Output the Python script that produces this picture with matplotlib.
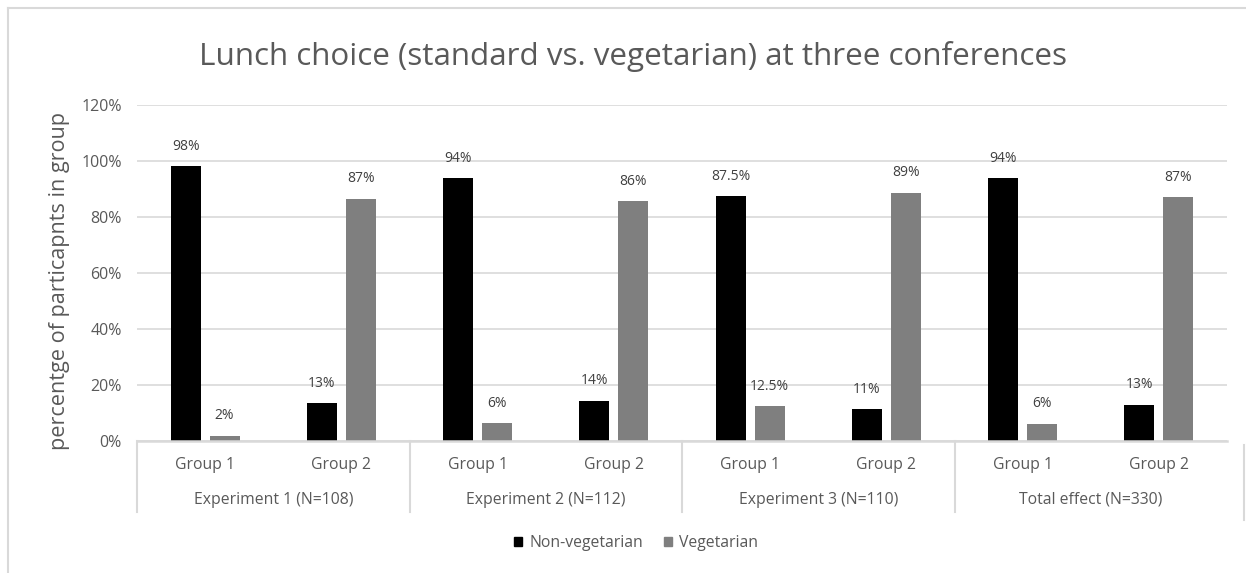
import matplotlib
matplotlib.use("Agg")
import matplotlib.pyplot as plt
from matplotlib.patches import Patch
from matplotlib.lines import Line2D
import numpy as np

plt.rcParams['font.family'] = ['Open Sans', 'DejaVu Sans']

# data
groups = ["Group 1", "Group 2"] * 4
experiments = ["Experiment 1 (N=108)", "Experiment 2 (N=112)",
               "Experiment 3 (N=110)", "Total effect (N=330)"]
non_veg = [98.1, 13.5, 93.8, 14.3, 87.5, 11.4, 93.9, 12.9]
veg = [1.9, 86.5, 6.3, 85.7, 12.5, 88.6, 6.1, 87.1]
non_veg_labels = ["98%", "13%", "94%", "14%", "87.5%", "11%", "94%", "13%"]
veg_labels = ["2%", "87%", "6%", "86%", "12.5%", "89%", "6%", "87%"]

W, H = 1246, 573
fig = plt.figure(figsize=(W / 100, H / 100), dpi=100)
ax = fig.add_axes([137 / W, (H - 441) / H, 1090 / W, 336 / H])

txt = "#595959"
grid = "#d9d9d9"
x = np.arange(len(groups))
bw = 0.22
off = 0.143
ax.bar(x - off, non_veg, bw, color="black", zorder=3)
ax.bar(x + off, veg, bw, color="#7f7f7f", zorder=3)

for i in range(len(x)):
    ax.annotate(non_veg_labels[i], (x[i] - off, non_veg[i]), xytext=(0, 20),
                textcoords="offset pixels", ha="center", va="center",
                fontsize=10, color="#404040")
    ax.annotate(veg_labels[i], (x[i] + off, veg[i]), xytext=(0, 20),
                textcoords="offset pixels", ha="center", va="center",
                fontsize=10, color="#404040")

ax.set_xlim(-0.5, 7.5)
ax.set_ylim(0, 120)
ax.set_yticks(range(0, 121, 20))
ax.set_yticklabels([f"{v}%" for v in range(0, 121, 20)])
ax.tick_params(axis="y", length=0, pad=11, labelsize=11.5, labelcolor=txt)
ax.set_xticks([])
ax.yaxis.grid(True, color=grid, lw=1.2, zorder=0)
for s in ["top", "right", "left"]:
    ax.spines[s].set_visible(False)
ax.spines["bottom"].set_color(grid)
ax.spines["bottom"].set_linewidth(1.8)
ax.spines["bottom"].set_zorder(4)

# two level category axis
tr = ax.get_xaxis_transform()
for i in range(len(x)):
    ax.text(x[i], -24 / 336, groups[i], transform=tr, ha="center", va="center",
            fontsize=11.3, color=txt)
for k in range(len(experiments)):
    ax.text(2 * k + 0.5, -59 / 336, experiments[k], transform=tr, ha="center",
            va="center", fontsize=11.3, color=txt)
for k in range(len(experiments)):
    ax.plot([2 * k - 0.5, 2 * k - 0.5], [0, -71 / 336], transform=tr,
            color=grid, lw=1.5, clip_on=False)

fig.text(633 / W, (H - 56) / H, "Lunch choice (standard vs. vegetarian) at three conferences",
         ha="center", va="center", fontsize=22.6, color=txt)
fig.text(60 / W, (H - 281) / H, "percentge of particapnts in group", rotation=90,
         ha="center", va="center", fontsize=15.6, color=txt)

handles = [Patch(color="black"), Patch(color="#7f7f7f")]
fig.legend(handles, ["Non-vegetarian", "Vegetarian"], loc="center",
           bbox_to_anchor=(636 / W, (H - 543) / H), ncol=2, frameon=False,
           fontsize=11.3, labelcolor=txt, handlelength=0.5, handleheight=0.55,
           handletextpad=0.45, columnspacing=1.35)

# chart border
bc = "#d9d9d9"
fig.add_artist(Line2D([8 / W, 1], [(H - 8) / H] * 2, color=bc, lw=1.5))
fig.add_artist(Line2D([8 / W] * 2, [0, (H - 8) / H], color=bc, lw=1.5))
fig.add_artist(Line2D([1244 / W] * 2, [(H - 520) / H, (H - 445) / H], color=bc, lw=1.5))

fig.savefig("out.png", dpi=100)
